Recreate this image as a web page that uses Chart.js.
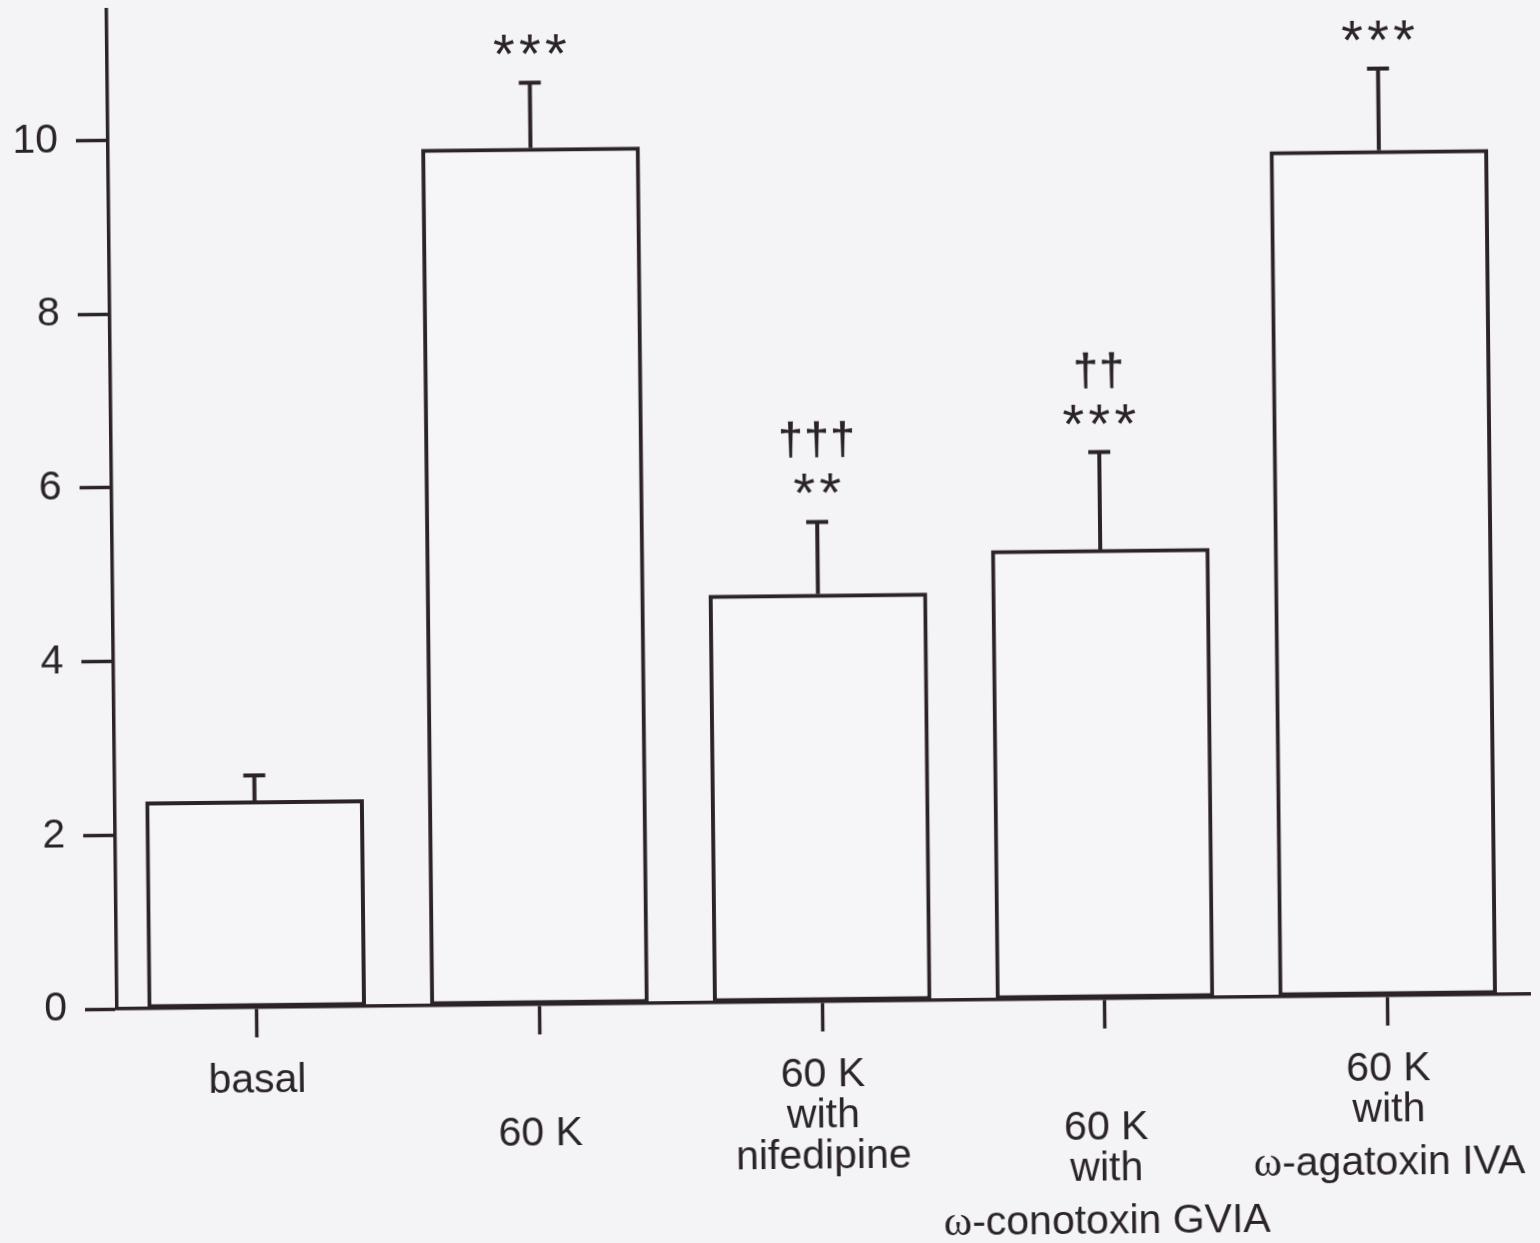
<!DOCTYPE html>
<html><head><meta charset="utf-8">
<script src="https://cdn.jsdelivr.net/npm/chart.js@4.4.1/dist/chart.umd.min.js"></script>
<style>
html,body{margin:0;padding:0;background:#f4f3f5;overflow:hidden;}
#wrap{width:1540px;height:1243px;transform:rotate(-0.6deg);transform-origin:770px 621.5px;}
canvas{display:block;}
</style></head><body>
<div id="wrap"><canvas id="c" width="1540" height="1243"></canvas></div>
<script>
// ---- data ----
const categories = ['basal', '60 K', '60 K with nifedipine', '60 K with ω-conotoxin GVIA', '60 K with ω-agatoxin IVA'];
const labelLines = [['basal'], ['60 K'], ['60 K', 'with', 'nifedipine'], ['60 K', 'with', 'ω-conotoxin GVIA'], ['60 K', 'with', 'ω-agatoxin IVA']];
const labelRow = [0, 1, 0, 1, 0];
const meanValues = [2.38, 9.86, 4.69, 5.17, 9.73];
const semValues = [0.29, 0.75, 0.83, 1.12, 0.94];
const significance = [[], ['***'], ['†††', '**'], ['††', '***'], ['***']]; // top line first
const yTicks = [0, 2, 4, 6, 8, 10];

const INK = '#2b2329';
const TEXT = '#2a2429';
const SANS = '"Liberation Sans", Arial, Helvetica, sans-serif';
const SERIF = '"Liberation Serif", "Times New Roman", serif';

function drawSpacedChars(ctx, str, cx, cy, spacing, font, strokeW) {
  ctx.font = font;
  ctx.textAlign = 'left';
  ctx.textBaseline = 'alphabetic';
  const n = str.length;
  for (let k = 0; k < n; k++) {
    const ch = str[k];
    const m = ctx.measureText(ch);
    const gx = cx + (k - (n - 1) / 2) * spacing;
    const bw = m.actualBoundingBoxRight + m.actualBoundingBoxLeft;
    const x = gx - bw / 2 + m.actualBoundingBoxLeft;
    const y = cy + (m.actualBoundingBoxAscent - m.actualBoundingBoxDescent) / 2;
    ctx.fillText(ch, x, y);
    if (strokeW) { ctx.lineWidth = strokeW; ctx.strokeText(ch, x, y); }
  }
}

function drawLabelLine(ctx, line, cx, cy, size) {
  ctx.textBaseline = 'alphabetic';
  ctx.textAlign = 'left';
  const baseline = cy + size * 0.36;
  let parts = [];
  if (line.startsWith('ω')) {
    parts.push({ t: 'ω', f: size * 1.05 + 'px ' + SERIF });
    parts.push({ t: line.slice(1), f: size + 'px ' + SANS });
  } else {
    parts.push({ t: line, f: size + 'px ' + SANS });
  }
  let total = 0;
  parts.forEach(p => { ctx.font = p.f; p.w = ctx.measureText(p.t).width; total += p.w; });
  let x = cx - total / 2;
  parts.forEach(p => { ctx.font = p.f; ctx.fillText(p.t, x, baseline); x += p.w; });
}

const overlay = {
  id: 'overlay',
  afterDatasetsDraw(chart) {
    const ctx = chart.ctx;
    const ys = chart.scales.y;
    const meta = chart.getDatasetMeta(0);
    ctx.save();
    ctx.strokeStyle = INK;
    ctx.fillStyle = TEXT;
    ctx.lineCap = 'butt';
    meta.data.forEach((bar, i) => {
      const x = bar.x;
      const yTop = ys.getPixelForValue(meanValues[i]);
      const yErr = ys.getPixelForValue(meanValues[i] + semValues[i]);
      ctx.lineWidth = 4;
      ctx.beginPath();
      ctx.moveTo(x, yTop);
      ctx.lineTo(x, yErr);
      ctx.moveTo(x - 11, yErr);
      ctx.lineTo(x + 11, yErr);
      ctx.stroke();
      const lines = significance[i].slice().reverse();
      lines.forEach((s, j) => {
        const cy = yErr - 38 - j * 44;
        ctx.strokeStyle = TEXT;
        if (s.includes('†')) drawSpacedChars(ctx, s, x, cy, 26, '44px ' + SANS, 0.6);
        else drawSpacedChars(ctx, s, x, cy, 26, '56px ' + SANS, 0);
        ctx.strokeStyle = INK;
      });
    });
    ctx.restore();
  },
  afterDraw(chart) {
    const ctx = chart.ctx;
    const xs = chart.scales.x;
    const bottom = chart.chartArea.bottom;
    ctx.save();
    ctx.fillStyle = TEXT;
    labelLines.forEach((lines, i) => {
      const cx = xs.getPixelForValue(i);
      let y = bottom + (labelRow[i] ? 126 : 70);
      lines.forEach((ln, j) => {
        if (j > 0) y += 41 + (ln.startsWith('ω') ? 12 : 0);
        drawLabelLine(ctx, ln, cx, y, 41);
      });
    });
    ctx.restore();
  }
};

new Chart(document.getElementById('c').getContext('2d'), {
  type: 'bar',
  data: {
    datasets: [{
      data: meanValues.map((v, i) => ({ x: i, y: v })),
      backgroundColor: '#f6f5f7',
      borderColor: INK,
      borderWidth: 4,
      borderSkipped: false,
      barThickness: 218
    }]
  },
  options: {
    responsive: false,
    animation: false,
    devicePixelRatio: 1,
    layout: { padding: { top: 3, right: 14, left: 0, bottom: 0 } },
    plugins: { legend: { display: false }, tooltip: { enabled: false } },
    scales: {
      x: {
        type: 'linear', min: -0.494, max: 4.503, offset: false,
        afterBuildTicks: s => { s.ticks = categories.map((c, i) => ({ value: i })); },
        afterFit: s => { s.height = 241; s.paddingLeft = 0; s.paddingRight = 0; },
        grid: { drawOnChartArea: false, drawTicks: true, offset: false, tickLength: 30, tickWidth: 3.5, tickColor: INK },
        border: { display: true, color: INK, width: 3.5 },
        ticks: { callback: () => '', padding: 0 }
      },
      y: {
        min: 0, max: 11.5,
        afterBuildTicks: s => { s.ticks = yTicks.map(v => ({ value: v })); },
        afterFit: s => { s.width = 113; s.paddingTop = 0; s.paddingBottom = 0; },
        grid: { drawOnChartArea: false, tickLength: 32, tickWidth: 3.5, tickColor: INK },
        border: { display: true, color: INK, width: 3.5 },
        ticks: { padding: 18, color: TEXT, font: { family: SANS, size: 41 } }
      }
    }
  },
  plugins: [overlay]
});
</script>
</body></html>
